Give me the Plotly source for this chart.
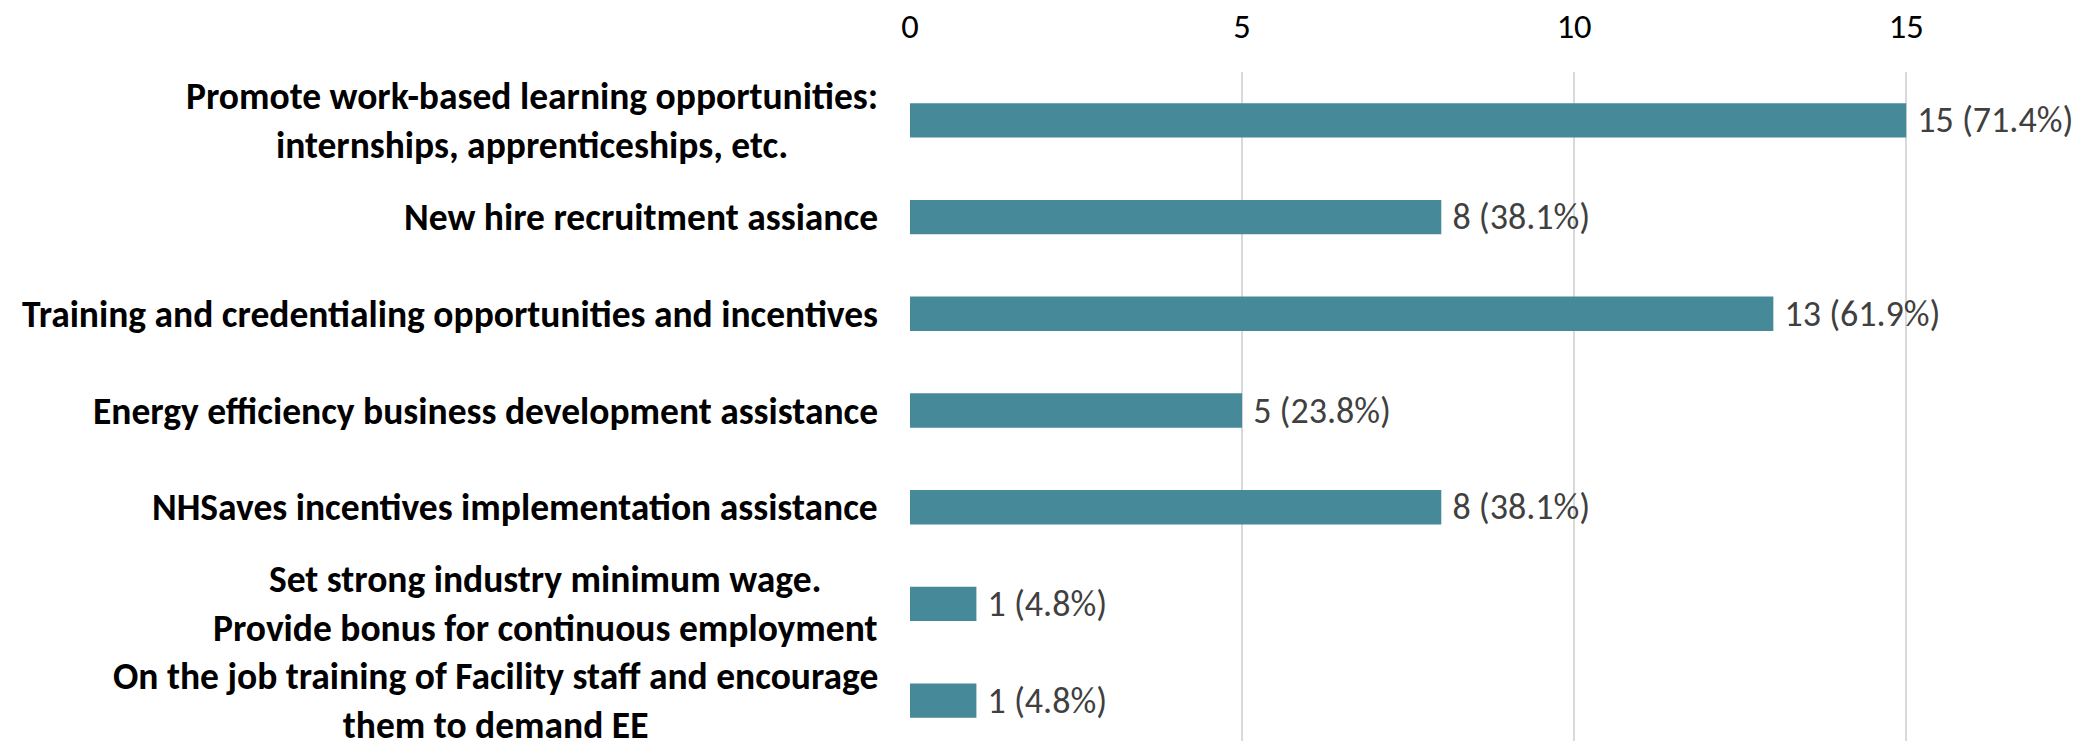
import plotly.graph_objects as go

categories = [
    "Promote work-based learning opportunities:<br>internships, apprenticeships, etc.",
    "New hire recruitment assiance",
    "Training and credentialing opportunities and incentives",
    "Energy efficiency business development assistance",
    "NHSaves incentives implementation assistance",
    "Set strong industry minimum wage.<br>Provide bonus for continuous employment",
    "On the job training of Facility staff and encourage<br>them to demand EE",
]
counts = [15, 8, 13, 5, 8, 1, 1]
percents = [71.4, 38.1, 61.9, 23.8, 38.1, 4.8, 4.8]
x_ticks = [0, 5, 10, 15]

FONT = "Carlito, 'Liberation Sans Narrow', 'Arial Narrow', sans-serif"
W, H = 2098, 741
# page body has an 8px default margin; compensate so marks land where the reference has them
L, R, T, B = 902, 67, 64, 0

fig = go.Figure()
fig.add_trace(go.Bar(
    x=counts,
    y=list(range(len(categories))),
    orientation="h",
    marker=dict(color="#468A99", line=dict(width=0)),
    width=0.355,
    customdata=percents,
    texttemplate=" %{x} (%{customdata:.1f}%)",
    textposition="outside",
    constraintext="none",
    cliponaxis=False,
    textfont=dict(family=FONT, size=36, color="#404040"),
))

for i, c in enumerate(categories):
    fig.add_annotation(
        x=0, xref="paper", y=i, yref="y",
        text="<b>" + c + "</b>",
        xanchor="right", yanchor="middle", align="center",
        xshift=-30, showarrow=False,
        font=dict(family=FONT, size=37.5, color="#000000"),
    )

fig.update_layout(
    width=W, height=H,
    margin=dict(l=L, r=R, t=T, b=B, autoexpand=False),
    paper_bgcolor="white", plot_bgcolor="white",
    showlegend=False,
    xaxis=dict(
        side="top", range=[0, 17], tickvals=x_ticks,
        showgrid=True, gridcolor="#d9d9d9", gridwidth=1.5,
        zeroline=False, showline=False, automargin=False,
        ticks="outside", ticklen=19, tickcolor="rgba(0,0,0,0)",
        tickfont=dict(family=FONT, size=34.5, color="#000000"),
    ),
    yaxis=dict(
        range=[len(categories) - 0.5, -0.5], automargin=False,
        showticklabels=False, showgrid=False, zeroline=False, showline=False,
    ),
)

fig.write_html("out.html")
